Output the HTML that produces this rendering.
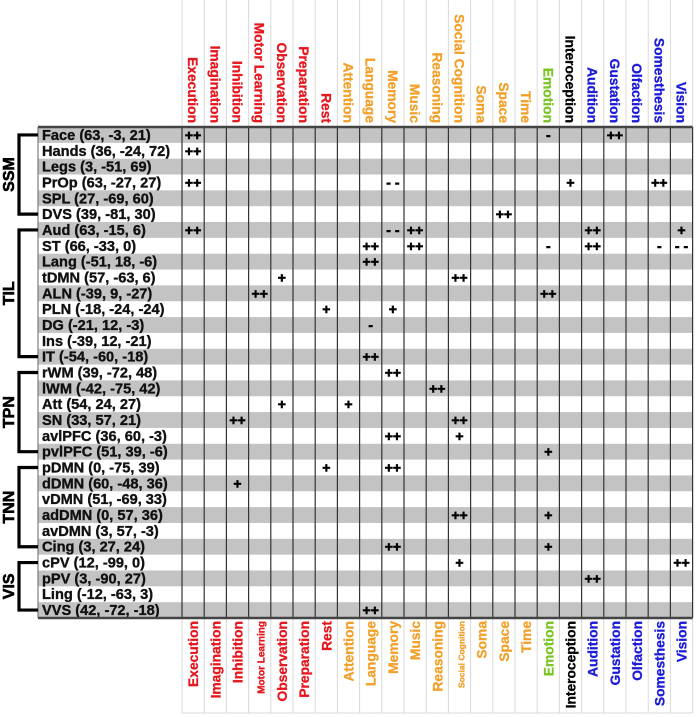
<!DOCTYPE html>
<html><head><meta charset="utf-8"><style>
html,body{margin:0;padding:0;background:#fff;}
svg{display:block;font-family:"Liberation Sans",Arial,sans-serif;font-weight:bold;}
</style></head><body>
<svg id="chart" width="697" height="717" viewBox="0 0 697 717" xmlns="http://www.w3.org/2000/svg"></svg>
<script>
const categories = ["Execution","Imagination","Inhibition","Motor Learning","Observation","Preparation","Rest","Attention","Language","Memory","Music","Reasoning","Social Cognition","Soma","Space","Time","Emotion","Interoception","Audition","Gustation","Olfaction","Somesthesis","Vision"];
const categoryColors = ["#e5161d","#e5161d","#e5161d","#e5161d","#e5161d","#e5161d","#e5161d","#f2a02a","#f2a02a","#f2a02a","#f2a02a","#f2a02a","#f2a02a","#f2a02a","#f2a02a","#f2a02a","#7cc424","#000000","#1a1ad8","#1a1ad8","#1a1ad8","#1a1ad8","#1a1ad8"];
const regions = ["Face (63, -3, 21)","Hands (36, -24, 72)","Legs (3, -51, 69)","PrOp (63, -27, 27)","SPL (27, -69, 60)","DVS (39, -81, 30)","Aud (63, -15, 6)","ST (66, -33, 0)","Lang (-51, 18, -6)","tDMN (57, -63, 6)","ALN (-39, 9, -27)","PLN (-18, -24, -24)","DG (-21, 12, -3)","Ins (-39, 12, -21)","IT (-54, -60, -18)","rWM  (39, -72, 48)","lWM  (-42, -75, 42)","Att (54, 24, 27)","SN (33, 57, 21)","avlPFC (36, 60, -3)","pvlPFC (51, 39, -6)","pDMN (0, -75, 39)","dDMN (60, -48, 36)","vDMN (51, -69, 33)","adDMN (0, 57, 36)","avDMN (3, 57, -3)","Cing (3, 27, 24)","cPV (12, -99, 0)","pPV (3, -90, 27)","Ling (-12, -63, 3)","VVS (42, -72, -18)"];
const groups = ["SSM","TIL","TPN","TNN","VIS"];
const groupStart = [0,6,15,21,27];
const groupEnd = [5,14,20,26,30];
// marks: [regionIndex, categoryIndex, symbol]
const marks = [
 [0,0,"++"],[0,16,"-"],[0,19,"++"],
 [1,0,"++"],
 [3,0,"++"],[3,9,"- -"],[3,17,"+"],[3,21,"++"],
 [5,14,"++"],
 [6,0,"++"],[6,9,"- -"],[6,10,"++"],[6,18,"++"],[6,22,"+"],
 [7,8,"++"],[7,10,"++"],[7,16,"-"],[7,18,"++"],[7,21,"-"],[7,22,"- -"],
 [8,8,"++"],
 [9,4,"+"],[9,12,"++"],
 [10,3,"++"],[10,16,"++"],
 [11,6,"+"],[11,9,"+"],
 [12,8,"-"],
 [14,8,"++"],
 [15,9,"++"],
 [16,11,"++"],
 [17,4,"+"],[17,7,"+"],
 [18,2,"++"],[18,12,"++"],
 [19,9,"++"],[19,12,"+"],
 [20,16,"+"],
 [21,6,"+"],[21,9,"++"],
 [22,2,"+"],
 [24,12,"++"],[24,16,"+"],
 [26,9,"++"],[26,16,"+"],
 [27,12,"+"],[27,22,"++"],
 [28,18,"++"],
 [30,8,"++"]
];

const NS="http://www.w3.org/2000/svg";
const svg=document.getElementById("chart");
const TOP=127, BOT=618, LEFT=38, COL0=182, CW=22.2, RH=(BOT-TOP)/regions.length;
function colX(i){return COL0+i*CW;}
function rowY(i){return TOP+i*RH;}
function mk(tag,attrs){const e=document.createElementNS(NS,tag);for(const k in attrs)e.setAttribute(k,attrs[k]);svg.appendChild(e);return e;}

regions.forEach((r,i)=>{
  if(i%2===0){
    const s=mk("rect",{x:LEFT,y:rowY(i),width:colX(categories.length)-LEFT,height:RH,fill:"#c3c3c3"});
    
    
  }
  const t=mk("text",{x:LEFT+4,y:rowY(i)+RH/2+5,"font-size":"14.6px",fill:"#111",stroke:"#111","stroke-width":0.35});
  t.textContent=r;
  
  
});

for(let c=0;c<=categories.length;c++){
  const x=colX(c);
  const l1=mk("line",{x1:x,y1:0,x2:x,y2:TOP,stroke:"#d8d8d8","stroke-width":1});
  
  
  const l2=mk("line",{x1:x,y1:BOT,x2:x,y2:713,stroke:"#d8d8d8","stroke-width":1});
  
  
  const l3=mk("line",{x1:x,y1:TOP,x2:x,y2:BOT,stroke:"#333","stroke-width":1.2});
  
  
}
const fl=mk("line",{x1:COL0,y1:713,x2:colX(categories.length),y2:713,stroke:"#d8d8d8","stroke-width":1});



const bt=mk("line",{x1:LEFT,y1:TOP,x2:colX(categories.length),y2:TOP,stroke:"#444","stroke-width":2.5});


const bb=mk("line",{x1:LEFT,y1:BOT,x2:colX(categories.length),y2:BOT,stroke:"#444","stroke-width":2.5});


const bl=mk("line",{x1:LEFT,y1:TOP,x2:LEFT,y2:BOT,stroke:"#666","stroke-width":1});



categories.forEach((c,i)=>{
  const cx=colX(i)+CW/2;
  const t=mk("text",{transform:`translate(${cx-5},123) rotate(90)`,"text-anchor":"end","font-size":"13.8px",fill:categoryColors[i],stroke:categoryColors[i],"stroke-width":0.3});
  t.textContent=c;
  
  
  let fs=13.8; if(c==="Motor Learning")fs=10; if(c==="Social Cognition")fs=8.5;
  const b=mk("text",{transform:`translate(${cx+5},621) rotate(-90)`,"text-anchor":"end","font-size":fs+"px",fill:categoryColors[i],stroke:categoryColors[i],"stroke-width":0.3});
  b.textContent=c;
  
  
});

marks.forEach(m=>{
  const t=mk("text",{x:colX(m[1])+CW/2,y:rowY(m[0])+RH/2+5,"text-anchor":"middle","font-size":"14px",fill:"#000",stroke:"#000","stroke-width":0.6});
  t.textContent=m[2];
  
  
});

groups.forEach((g,i)=>{
  const y1=rowY(groupStart[i])+RH/2, y2=rowY(groupEnd[i])+RH/2;
  const p=mk("path",{d:`M${LEFT},${y1} H19 V${y2} H${LEFT}`,fill:"none",stroke:"#000","stroke-width":3.2});
  
  
  const t=mk("text",{transform:`translate(14,${(y1+y2)/2}) rotate(-90)`,"text-anchor":"middle","font-size":"16px",fill:"#000",stroke:"#000","stroke-width":0.6});
  t.textContent=g;
  
  
});
</script>
</body></html>
